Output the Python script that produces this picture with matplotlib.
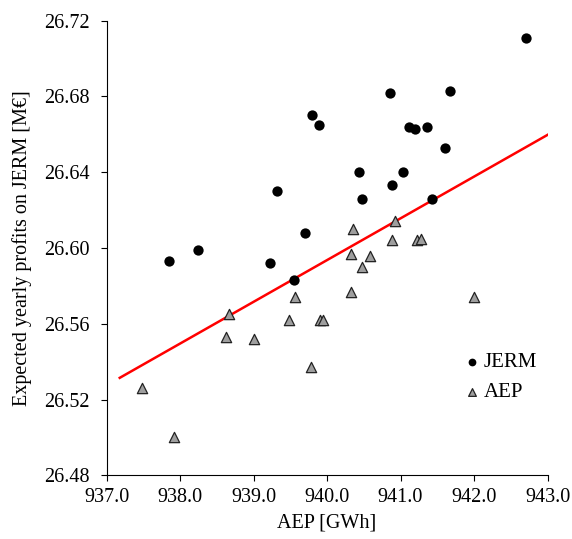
import matplotlib.pyplot as plt
import numpy as np

# JERM-based points (AEP in GWh, expected profit in M EUR)
jerm_aep = [937.85, 938.24, 939.23, 939.32, 939.55, 939.70, 939.80, 939.89,
            940.44, 940.47, 940.86, 940.89, 941.03, 941.11, 941.20, 941.36,
            941.43, 941.61, 941.68, 942.71]
jerm_profit = [26.593, 26.599, 26.592, 26.630, 26.583, 26.608, 26.670, 26.665,
               26.640, 26.626, 26.682, 26.633, 26.640, 26.664, 26.663, 26.664,
               26.626, 26.653, 26.683, 26.711]

# AEP-based points
aep_aep = [937.48, 937.92, 938.62, 938.67, 939.01, 939.48, 939.57, 939.78,
           939.91, 939.94, 940.32, 940.33, 940.36, 940.48, 940.58, 940.89,
           940.92, 941.22, 941.28, 942.00]
aep_profit = [26.526, 26.500, 26.553, 26.565, 26.552, 26.562, 26.574, 26.537,
              26.562, 26.562, 26.577, 26.597, 26.610, 26.590, 26.596, 26.604,
              26.614, 26.604, 26.605, 26.574]

# linear trend
fit_slope = 0.02204
fit_intercept_at_940 = 26.5936
fit_range = [937.18, 943.06]

plt.rcParams['font.family'] = 'Liberation Serif'
fs = 14.5

fig = plt.figure(figsize=(5.72, 5.39), dpi=100)
ax = fig.add_axes([0.1862, 0.1182, 0.7710, 0.8434])

fit_x = np.array(fit_range)
fit_y = fit_intercept_at_940 + fit_slope * (fit_x - 940.0)
ax.plot(fit_x, fit_y, color='#ff0000', linewidth=1.8, zorder=2)

ax.scatter(jerm_aep, jerm_profit, s=55, marker='o', color='black',
           linewidths=0, label='JERM', zorder=3)
ax.scatter(aep_aep, aep_profit, s=55, marker='^', facecolor='#9e9e9e',
           edgecolor='#222222', linewidths=0.9, label='AEP', zorder=3)

ax.set_xlim(937.0, 943.0)
ax.set_ylim(26.48, 26.72)
ax.set_xticks(np.arange(937.0, 943.5, 1.0))
ax.set_yticks(np.arange(26.48, 26.73, 0.04))
ax.xaxis.set_major_formatter(plt.FormatStrFormatter('%.1f'))
ax.yaxis.set_major_formatter(plt.FormatStrFormatter('%.2f'))
ax.tick_params(direction='out', length=4, width=0.8, labelsize=fs)
ax.tick_params(axis='x', pad=5)
ax.tick_params(axis='y', pad=8)

ax.spines['top'].set_visible(False)
ax.spines['right'].set_visible(False)

ax.set_xlabel('AEP [GWh]', fontsize=fs, labelpad=5)
ax.set_ylabel('Expected yearly profits on JERM [M€]', fontsize=fs, labelpad=9)

ax.legend(loc='center left', bbox_to_anchor=(0.79, 0.215), frameon=False,
          handlelength=0.8, handletextpad=0.2, fontsize=15, markerscale=0.75,
          borderaxespad=0.0, labelspacing=0.5)

fig.savefig('out.png', dpi=100)
